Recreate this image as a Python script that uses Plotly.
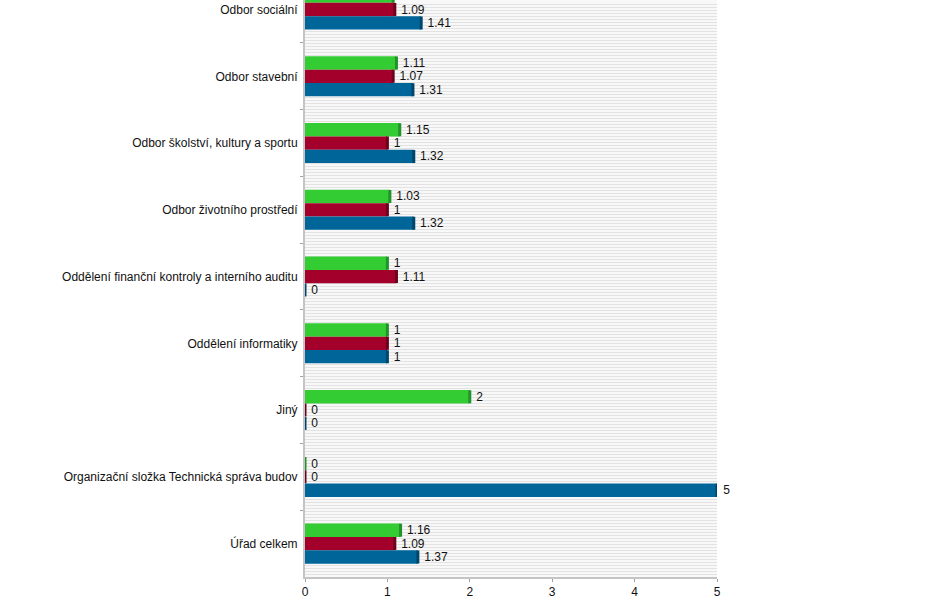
import plotly.graph_objects as go

categories = [
    "Odbor sociální",
    "Odbor stavební",
    "Odbor školství, kultury a sportu",
    "Odbor životního prostředí",
    "Oddělení finanční kontroly a interního auditu",
    "Oddělení informatiky",
    "Jiný",
    "Organizační složka Technická správa budov",
    "Úřad celkem",
]
green_vals = [1.07, 1.11, 1.15, 1.03, 1, 1, 2, 0, 1.16]
red_vals = [1.09, 1.07, 1, 1, 1.11, 1, 0, 0, 1.09]
blue_vals = [1.41, 1.31, 1.32, 1.32, 0, 1, 0, 5, 1.37]

series = [
    ("Řada 1", green_vals, "#33cc33", "#22922a"),
    ("Řada 2", red_vals, "#a3002b", "#6e001c"),
    ("Řada 3", blue_vals, "#006699", "#00466b"),
]

FONT = "Liberation Sans"

fig = go.Figure()
for name, vals, col, dark in series:
    fig.add_trace(go.Bar(
        y=categories, x=vals, orientation="h", name=name,
        marker=dict(color=col, line=dict(width=0)),
        text=[f" {v:g}" for v in vals], textposition="outside",
        textfont=dict(family=FONT, size=12, color="#111111"),
        constraintext="none", cliponaxis=False,
        error_x=dict(type="data", array=[0] * len(vals), color=dark,
                     thickness=3, width=6.5),
        showlegend=False,
    ))

# dummy trace for striped background axis
fig.add_trace(go.Scatter(x=[None], y=[None], yaxis="y2", showlegend=False,
                         hoverinfo="skip"))

fig.update_layout(
    width=930, height=603,
    margin=dict(l=305, r=213, t=0, b=26),
    paper_bgcolor="white", plot_bgcolor="#f8f8f8",
    barmode="group", bargap=0.4, bargroupgap=0,
    font=dict(family=FONT, size=12, color="#111111"),
    xaxis=dict(range=[0, 5], dtick=1, showgrid=False, zeroline=False,
               showline=True, linecolor="#c4c4c4", linewidth=2,
               ticks="outside", ticklen=3, tickcolor="#a0a0a0",
               tickfont=dict(family=FONT, size=12, color="#111111")),
    yaxis=dict(range=[8.5, -0.143], showgrid=False, zeroline=False,
               showline=True, linecolor="#c4c4c4", linewidth=2,
               ticks="outside", ticklen=3, tickcolor="#a0a0a0",
               tickson="boundaries", ticklabelstandoff=3,
               tickfont=dict(family=FONT, size=12, color="#111111")),
    yaxis2=dict(overlaying="y", range=[0, 577], dtick=3, showgrid=True,
                gridcolor="#e2e2e2", gridwidth=1, showticklabels=False,
                zeroline=False, showline=False, ticks=""),
)

fig.write_html(
    "out.html",
    config={"displayModeBar": False},
    post_script="document.body.style.margin='0';document.body.style.overflow='hidden';",
)
